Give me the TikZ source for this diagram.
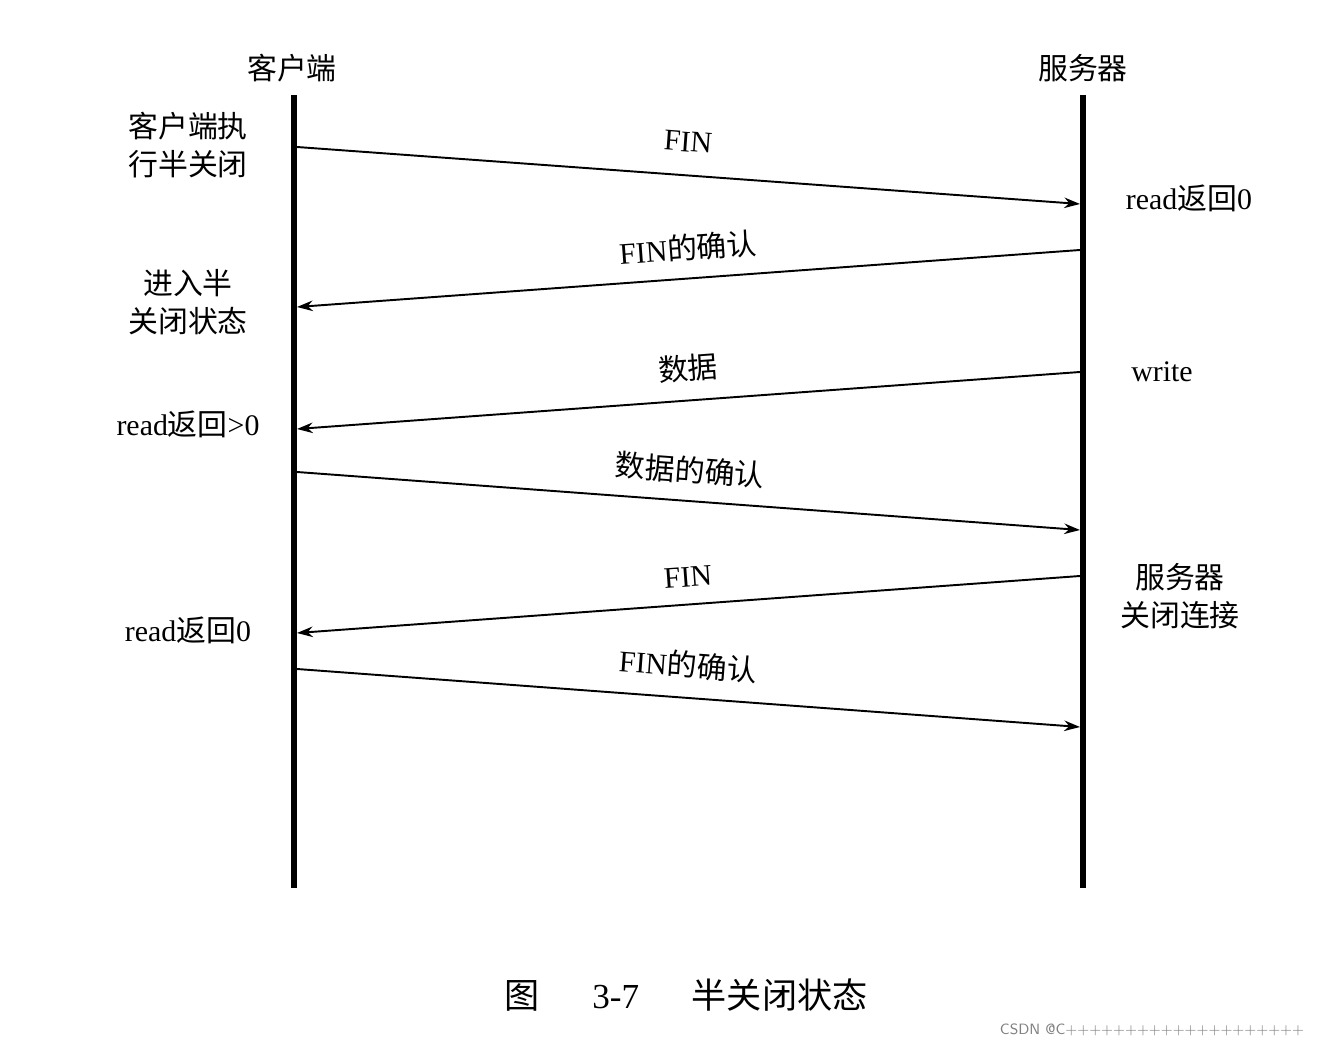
\documentclass[tikz,border=0pt]{standalone}
\usepackage{fontspec}
\setmainfont{Liberation Serif}
\newfontfamily\cjk{Noto Sans CJK SC}
\newcommand{\zh}[1]{{\cjk #1}}
\usetikzlibrary{arrows.meta}
\begin{document}
\begin{tikzpicture}[x=0.02cm,y=-0.02cm,
  life/.style={line width=3.5pt},
  msg/.style={line width=1.1pt,-{Stealth[length=9pt,width=6pt]}},
  lbl/.style={font=\fontsize{17}{22}\selectfont,align=center,inner sep=0pt},
  mlbl/.style={font=\fontsize{17}{22}\selectfont,inner sep=0pt}]
\useasboundingbox (0,0) rectangle (1323,1047);
\coordinate (c0) at (294,95); \coordinate (c1) at (294,888);
\coordinate (s0) at (1083,95); \coordinate (s1) at (1083,888);
\draw[life] (c0) -- (c1);
\draw[life] (s0) -- (s1);
\node[lbl] (hc) at (292,68) {\zh{客户端}};
\node[lbl] (hs) at (1083,68) {\zh{服务器}};
\coordinate (a1) at (297,147); \coordinate (b1) at (1080,204);
\coordinate (a2) at (1080,250); \coordinate (b2) at (297,307);
\coordinate (a3) at (1080,372); \coordinate (b3) at (297,429);
\coordinate (a4) at (297,472); \coordinate (b4) at (1080,530);
\coordinate (a5) at (1080,576); \coordinate (b5) at (297,633);
\coordinate (a6) at (297,669); \coordinate (b6) at (1080,727);
\draw[msg] (a1) -- (b1);
\draw[msg] (a2) -- (b2);
\draw[msg] (a3) -- (b3);
\draw[msg] (a4) -- (b4);
\draw[msg] (a5) -- (b5);
\draw[msg] (a6) -- (b6);
\node[mlbl,rotate=-4.2] (m1) at (688,142) {FIN};
\node[mlbl,rotate=4.2] (m2) at (688,248) {FIN\zh{的确认}};
\node[mlbl,rotate=4.2] (m3) at (688,368) {\zh{数据}};
\node[mlbl,rotate=-4.2] (m4) at (690,470) {\zh{数据的确认}};
\node[mlbl,rotate=4.2] (m5) at (688,577) {FIN};
\node[mlbl,rotate=-4.2] (m6) at (688,665) {FIN\zh{的确认}};
\node[lbl] (l1) at (188,145) {\zh{客户端执}\\\zh{行半关闭}};
\node[lbl] (l2) at (188,302) {\zh{进入半}\\\zh{关闭状态}};
\node[lbl] (l3) at (188,424) {read\zh{返回}>0};
\node[lbl] (l4) at (188,630) {read\zh{返回}0};
\node[lbl] (r1) at (1189,198) {read\zh{返回}0};
\node[lbl] (r2) at (1162,372) {write};
\node[lbl] (r3) at (1180,596) {\zh{服务器}\\\zh{关闭连接}};
\node[font=\fontsize{20}{24}\selectfont,inner sep=0pt] (cap) at (686,995) {\zh{图}\hspace{1.5em}3-7\hspace{1.5em}\zh{半关闭状态}};
\node[font=\sffamily\fontsize{8.5}{10}\selectfont,text=gray,inner sep=0pt] (wm) at (1152,1030) {CSDN @C++++++++++++++++++++};
\end{tikzpicture}
\end{document}
